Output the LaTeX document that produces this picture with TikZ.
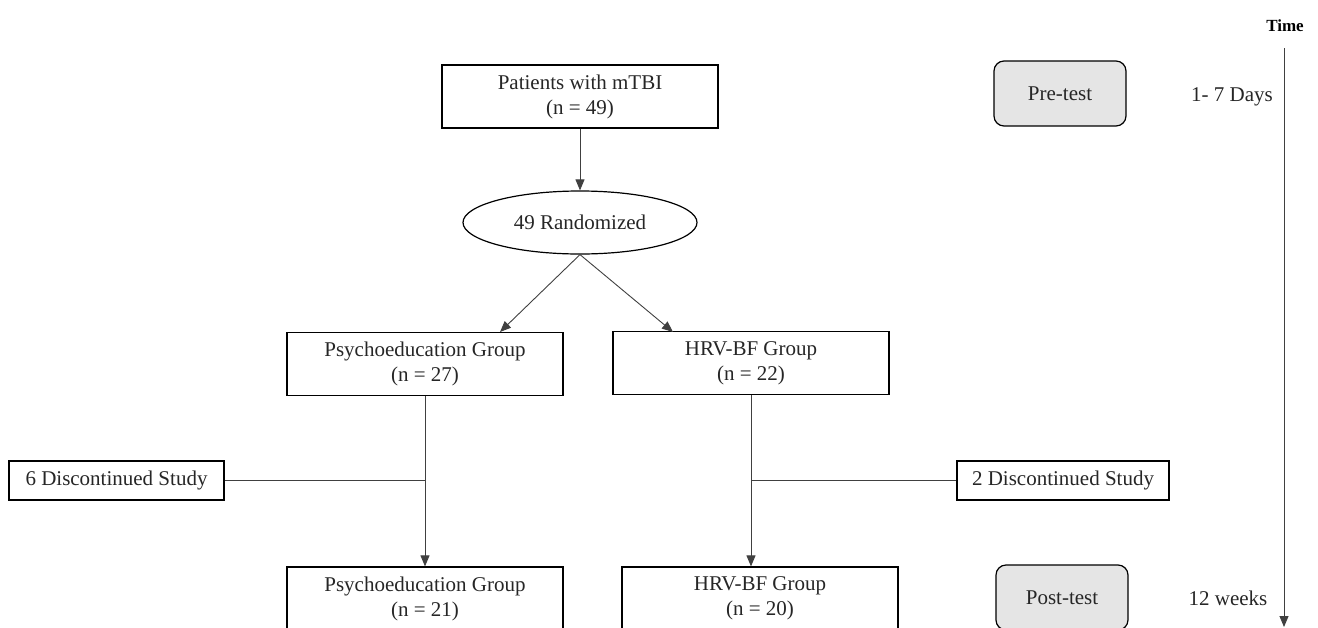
\documentclass[tikz,border=0pt]{standalone}
\usepackage{fontspec}
\setmainfont{Liberation Serif}
\usetikzlibrary{arrows.meta,shapes.geometric}
\begin{document}
\begin{tikzpicture}[x=1pt,y=-1pt,
  txt/.style={font=\fontsize{21}{25}\selectfont, text=black!85},
  box/.style={txt, draw, line width=1.2pt, minimum width=276pt, minimum height=63pt, align=center, inner sep=0pt},
  dbox/.style={txt, draw, line width=1.2pt, minimum height=39pt, inner sep=0pt},
  ell/.style={txt, draw, ellipse, line width=1.2pt, minimum width=234pt, minimum height=63pt, inner sep=0pt},
  tbox/.style={txt, draw, line width=1.2pt, rounded corners=10pt, fill=black!10, minimum width=132pt, minimum height=65pt, inner sep=0pt},
  conn/.style={line width=0.9pt, draw=black!75},
  arr/.style={conn, -{Triangle[length=11pt,width=9pt]}}
]
\useasboundingbox (0,0) rectangle (1318,627);
\clip (0,0) rectangle (1318,627);

\node[box] (pat) at (580,96.5) {Patients with mTBI\\(n = 49)};
\node[ell] (rand) at (580,222.5) {49 Randomized};
\node[box] (pe1) at (425,364) {Psychoeducation Group\\(n = 27)};
\node[box] (hrv1) at (751,363) {HRV-BF Group\\(n = 22)};
\node[box] (pe2) at (425,598.5) {Psychoeducation Group\\(n = 21)};
\node[box] (hrv2) at (760,598.5) {HRV-BF Group\\(n = 20)};
\node[dbox, minimum width=215pt] (d6) at (116.5,480.5) {6 Discontinued Study};
\node[dbox, minimum width=212pt] (d2) at (1063,480.5) {2 Discontinued Study};
\node[tbox] (pre) at (1060,93.5) {Pre-test};
\node[tbox] (post) at (1062,597.5) {Post-test};
\node[txt] (d17) at (1232,97) {1- 7 Days};
\node[txt] (w12) at (1228,598) {12 weeks};
\node[font=\fontsize{17}{20}\selectfont\bfseries] (time) at (1285,26) {Time};

\coordinate (pe1in) at (500,332);
\coordinate (hrv1in) at (673,332);
\coordinate (tt) at (1284,48);
\coordinate (tb) at (1284,627);

\draw[arr] (pat.south) -- (rand.north);
\draw[arr] (rand.south) -- (pe1in);
\draw[arr] (rand.south) -- (hrv1in);
\draw[arr] (pe1.south) -- (pe2.north);
\draw[arr] (hrv1.south) -- (hrv1.south |- hrv2.north);
\draw[conn] (d6.east) -- (d6.east -| pe1.south);
\draw[conn] (d2.west) -- (d2.west -| hrv1.south);
\draw[arr] (tt) -- (tb);
\end{tikzpicture}
\end{document}
